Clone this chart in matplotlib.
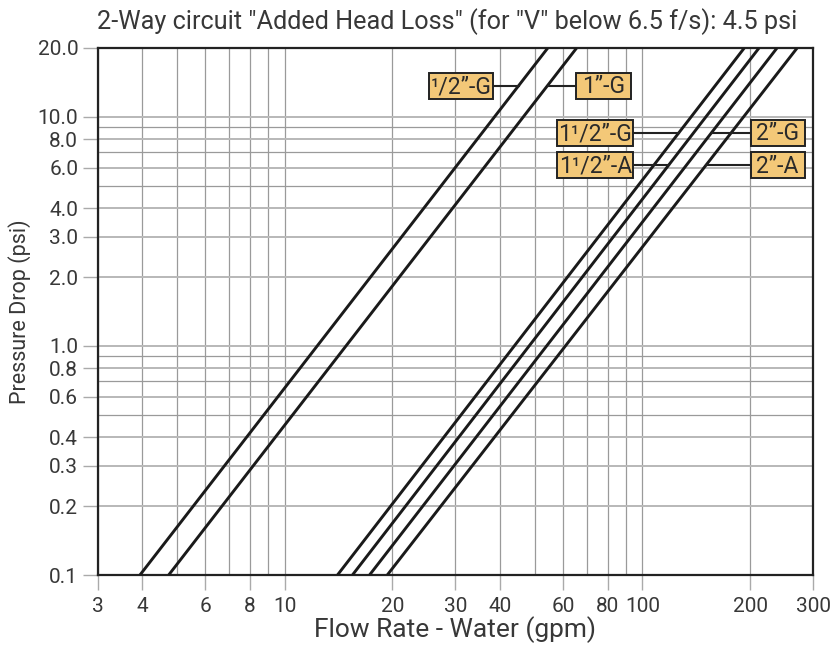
import numpy as np
import matplotlib
matplotlib.use("Agg")
import matplotlib.pyplot as plt
from matplotlib.ticker import FixedLocator, NullFormatter, FixedFormatter
from matplotlib.patches import Rectangle
from matplotlib.transforms import IdentityTransform

plt.rcParams['font.family'] = ['Roboto', 'DejaVu Sans']

# ---- data ----
series_names = ['¹/2”-G', '1”-G', '1¹/2”-G', '1¹/2”-A', '2”-G', '2”-A']
pressure_ends = [0.1, 20.0]                       # psi
flow_low = [3.94, 4.74, 14.05, 15.47, 17.27, 19.36]   # gpm at 0.1 psi
flow_high = [54.4, 65.5, 192.7, 211.9, 237.9, 270.8]  # gpm at 20 psi

x_ticks = [3, 4, 6, 8, 10, 20, 30, 40, 60, 80, 100, 200, 300]
x_ticklabels = ['3', '4', '6', '8', '10', '20', '30', '40', '60', '80', '100', '200', '300']
x_minor = [5, 7, 9, 50, 70, 90]
y_ticks = [0.1, 0.2, 0.3, 0.4, 0.6, 0.8, 1.0, 2.0, 3.0, 4.0, 6.0, 8.0, 10.0, 20.0]
y_ticklabels = ['0.1', '0.2', '0.3', '0.4', '0.6', '0.8', '1.0', '2.0', '3.0', '4.0',
                '6.0', '8.0', '10.0', '20.0']
y_minor = [0.5, 0.7, 0.9, 5.0, 7.0, 9.0]

# label box centres (data coords)
label_x = [31.2, 78.0, 73.9, 73.9, 238.7, 238.7]
label_y = [13.7, 13.7, 8.55, 6.15, 8.55, 6.15]
box_w_px = [64, 55, 76, 76, 54, 54]
box_h_px = 26

title = '2-Way circuit "Added Head Loss" (for "V" below 6.5 f/s): 4.5 psi'
TXT = '#383838'

fig = plt.figure(figsize=(8.35, 6.46), dpi=100)
ax = fig.add_axes([0.1169, 0.1099, 0.9737 - 0.1169, 0.9257 - 0.1099])
ax.set_xscale('log')
ax.set_yscale('log')
ax.set_xlim(3, 300)
ax.set_ylim(0.1, 20)

ax.xaxis.set_major_locator(FixedLocator(x_ticks))
ax.xaxis.set_major_formatter(FixedFormatter(x_ticklabels))
ax.xaxis.set_minor_locator(FixedLocator(x_minor))
ax.xaxis.set_minor_formatter(NullFormatter())
ax.yaxis.set_major_locator(FixedLocator(y_ticks))
ax.yaxis.set_major_formatter(FixedFormatter(y_ticklabels))
ax.yaxis.set_minor_locator(FixedLocator(y_minor))
ax.yaxis.set_minor_formatter(NullFormatter())

ax.tick_params(which='major', length=11, width=1.0, color='#aaaaaa',
               labelsize=15, labelcolor=TXT, pad=3)
ax.tick_params(axis='x', which='major', pad=5)
ax.tick_params(which='minor', length=0)

ax.grid(True, axis='x', which='both', color='#9a9a9a', lw=0.9)
ax.grid(True, axis='y', which='major', color='#b8b8b8', lw=1.4)
ax.grid(True, axis='y', which='minor', color='#9a9a9a', lw=0.9)
ax.set_axisbelow(True)

for s in ax.spines.values():
    s.set_color('#222222')
    s.set_linewidth(1.6)

for lo, hi in zip(flow_low, flow_high):
    ax.plot([lo, hi], pressure_ends, color='#1a1a1a', lw=2.1, solid_capstyle='butt', zorder=3)

def flow_at(idx, p):
    lp = np.log10(pressure_ends)
    lq = np.log10([flow_low[idx], flow_high[idx]])
    return 10 ** np.interp(np.log10(p), lp, lq)

fig.canvas.draw()
for i, name in enumerate(series_names):
    bx, by = label_x[i], label_y[i]
    qx = flow_at(i, by)
    ax.plot([bx, qx], [by, by], color='#222222', lw=1.5, zorder=4)
    cx, cy = ax.transData.transform((bx, by))
    w = box_w_px[i]
    rect = Rectangle((cx - w / 2, cy - box_h_px / 2), w, box_h_px,
                     transform=IdentityTransform(), facecolor='#f3c878',
                     edgecolor='#222222', lw=1.4, zorder=5)
    fig.add_artist(rect)
    fig.text(cx / fig.dpi / fig.get_figwidth(), (cy - 1) / fig.dpi / fig.get_figheight(),
             name, ha='center', va='center', fontsize=16.5, color='#2a2a2a', zorder=6)

ax.set_xlabel('Flow Rate - Water (gpm)', fontsize=19, color=TXT, labelpad=0)
ax.set_ylabel('Pressure Drop (psi)', fontsize=15.5, color=TXT, labelpad=5)
fig.text(447 / 835, 1 - 22 / 646, title, ha='center', va='center',
         fontsize=18.2, color=TXT)

fig.savefig('out.png', dpi=100)
